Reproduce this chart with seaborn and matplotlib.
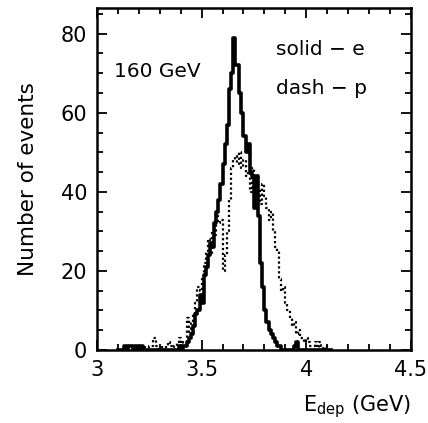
import numpy as np
import pandas as pd
import matplotlib
matplotlib.use("Agg")
import matplotlib.pyplot as plt
from matplotlib.ticker import MultipleLocator
import seaborn as sns

# bin left edges (GeV), width 0.01
bin_start = 3.10
bin_width = 0.01

counts_e = [0, 0, 0, 1, 0, 1, 1, 0, 1, 0,          # 3.10-3.19
            0, 1, 0, 0, 0, 0, 0, 0, 0, 0,          # 3.20-3.29
            0, 0, 0, 0, 0, 0, 0, 0, 0, 1,          # 3.30-3.39
            0, 1, 1, 2, 3, 4, 6, 9, 10, 14,        # 3.40-3.49
            12, 19, 21, 24, 27, 26, 32, 35, 38, 42,  # 3.50-3.59
            47, 52, 57, 66, 70, 79, 72, 72, 65, 60,  # 3.60-3.69
            54, 50, 52, 45, 44, 36, 44, 34, 22, 16,  # 3.70-3.79
            10, 7, 5, 4, 3, 2, 1, 1, 0, 0,           # 3.80-3.89
            0, 0, 0, 0, 1, 2, 0, 0, 0, 0,            # 3.90-3.99
            0, 0, 0, 0, 0, 0, 0, 0, 0, 0,            # 4.00-4.09
            0, 0]                                    # 4.10-4.11

counts_p = [0, 0, 0, 0, 0, 0, 0, 0, 0, 1,            # 3.10-3.19
            0, 0, 1, 0, 0, 1, 1, 3, 1, 0,            # 3.20-3.29
            1, 0, 0, 1, 2, 1, 0, 1, 2, 3,            # 3.30-3.39
            1, 2, 2, 8, 4, 7, 9, 12, 16, 15,         # 3.40-3.49
            18, 22, 25, 28, 24, 30, 29, 35, 32, 33,  # 3.50-3.59
            20, 24, 30, 38, 46, 48, 49, 47, 50, 46,  # 3.60-3.69
            48, 44, 45, 40, 46, 42, 40, 41, 37, 42,  # 3.70-3.79
            39, 36, 33, 35, 30, 26, 25, 18, 15, 16,  # 3.80-3.89
            12, 10, 8, 6, 7, 4, 5, 3, 3, 2,          # 3.90-3.99
            3, 2, 1, 1, 2, 0, 2, 1, 0, 1,            # 4.00-4.09
            0, 0]                                    # 4.10-4.11

x_ticks = [3, 3.5, 4, 4.5]
x_tick_labels = ["3", "3.5", "4", "4.5"]
y_ticks = [0, 20, 40, 60, 80]

n = len(counts_e)
edges = [round(bin_start + bin_width * i, 4) for i in range(n + 1)]
centers = [round(e + bin_width / 2, 4) for e in edges[:-1]]

df = pd.DataFrame({
    "E": centers + centers,
    "w": counts_e + counts_p,
    "particle": ["e"] * n + ["p"] * n,
})

plt.rcParams["font.family"] = ["DejaVu Sans"]
fig = plt.figure(figsize=(4.28, 4.23), dpi=100)
ax = fig.add_axes([0.2266, 0.1726, 0.7334, 0.8085])

sns.histplot(data=df[df.particle == "p"], x="E", weights="w", bins=edges,
             element="step", fill=False, color="black", linewidth=1.6,
             linestyle=(0, (1, 1.2)), ax=ax)
sns.histplot(data=df[df.particle == "e"], x="E", weights="w", bins=edges,
             element="step", fill=False, color="black", linewidth=2.6, ax=ax)

ax.set_xlim(3, 4.5)
ax.set_ylim(0, 86.5)
ax.set_xticks(x_ticks)
ax.set_xticklabels(x_tick_labels)
ax.set_yticks(y_ticks)
ax.xaxis.set_minor_locator(MultipleLocator(0.1))
ax.yaxis.set_minor_locator(MultipleLocator(5))
ax.tick_params(which="both", direction="in", top=True, right=True,
               width=1.3, labelsize=15, colors="black")
ax.tick_params(which="major", length=7, pad=7)
ax.tick_params(which="minor", length=4)
for s in ax.spines.values():
    s.set_linewidth(1.8)
    s.set_color("black")

ax.set_ylabel("Number of events", fontsize=15.5, labelpad=16)
ax.set_xlabel(r"E$_{\mathrm{dep}}$ (GeV)", fontsize=15, loc="right", labelpad=10)

ax.text(0.055, 0.815, "160 GeV", transform=ax.transAxes, fontsize=14.5,
        va="center", ha="left")
ax.text(0.57, 0.88, "solid \u2212 e", transform=ax.transAxes, fontsize=14.5,
        va="center", ha="left")
ax.text(0.57, 0.765, "dash \u2212 p", transform=ax.transAxes, fontsize=14.5,
        va="center", ha="left")

fig.savefig("out.png", dpi=100)
